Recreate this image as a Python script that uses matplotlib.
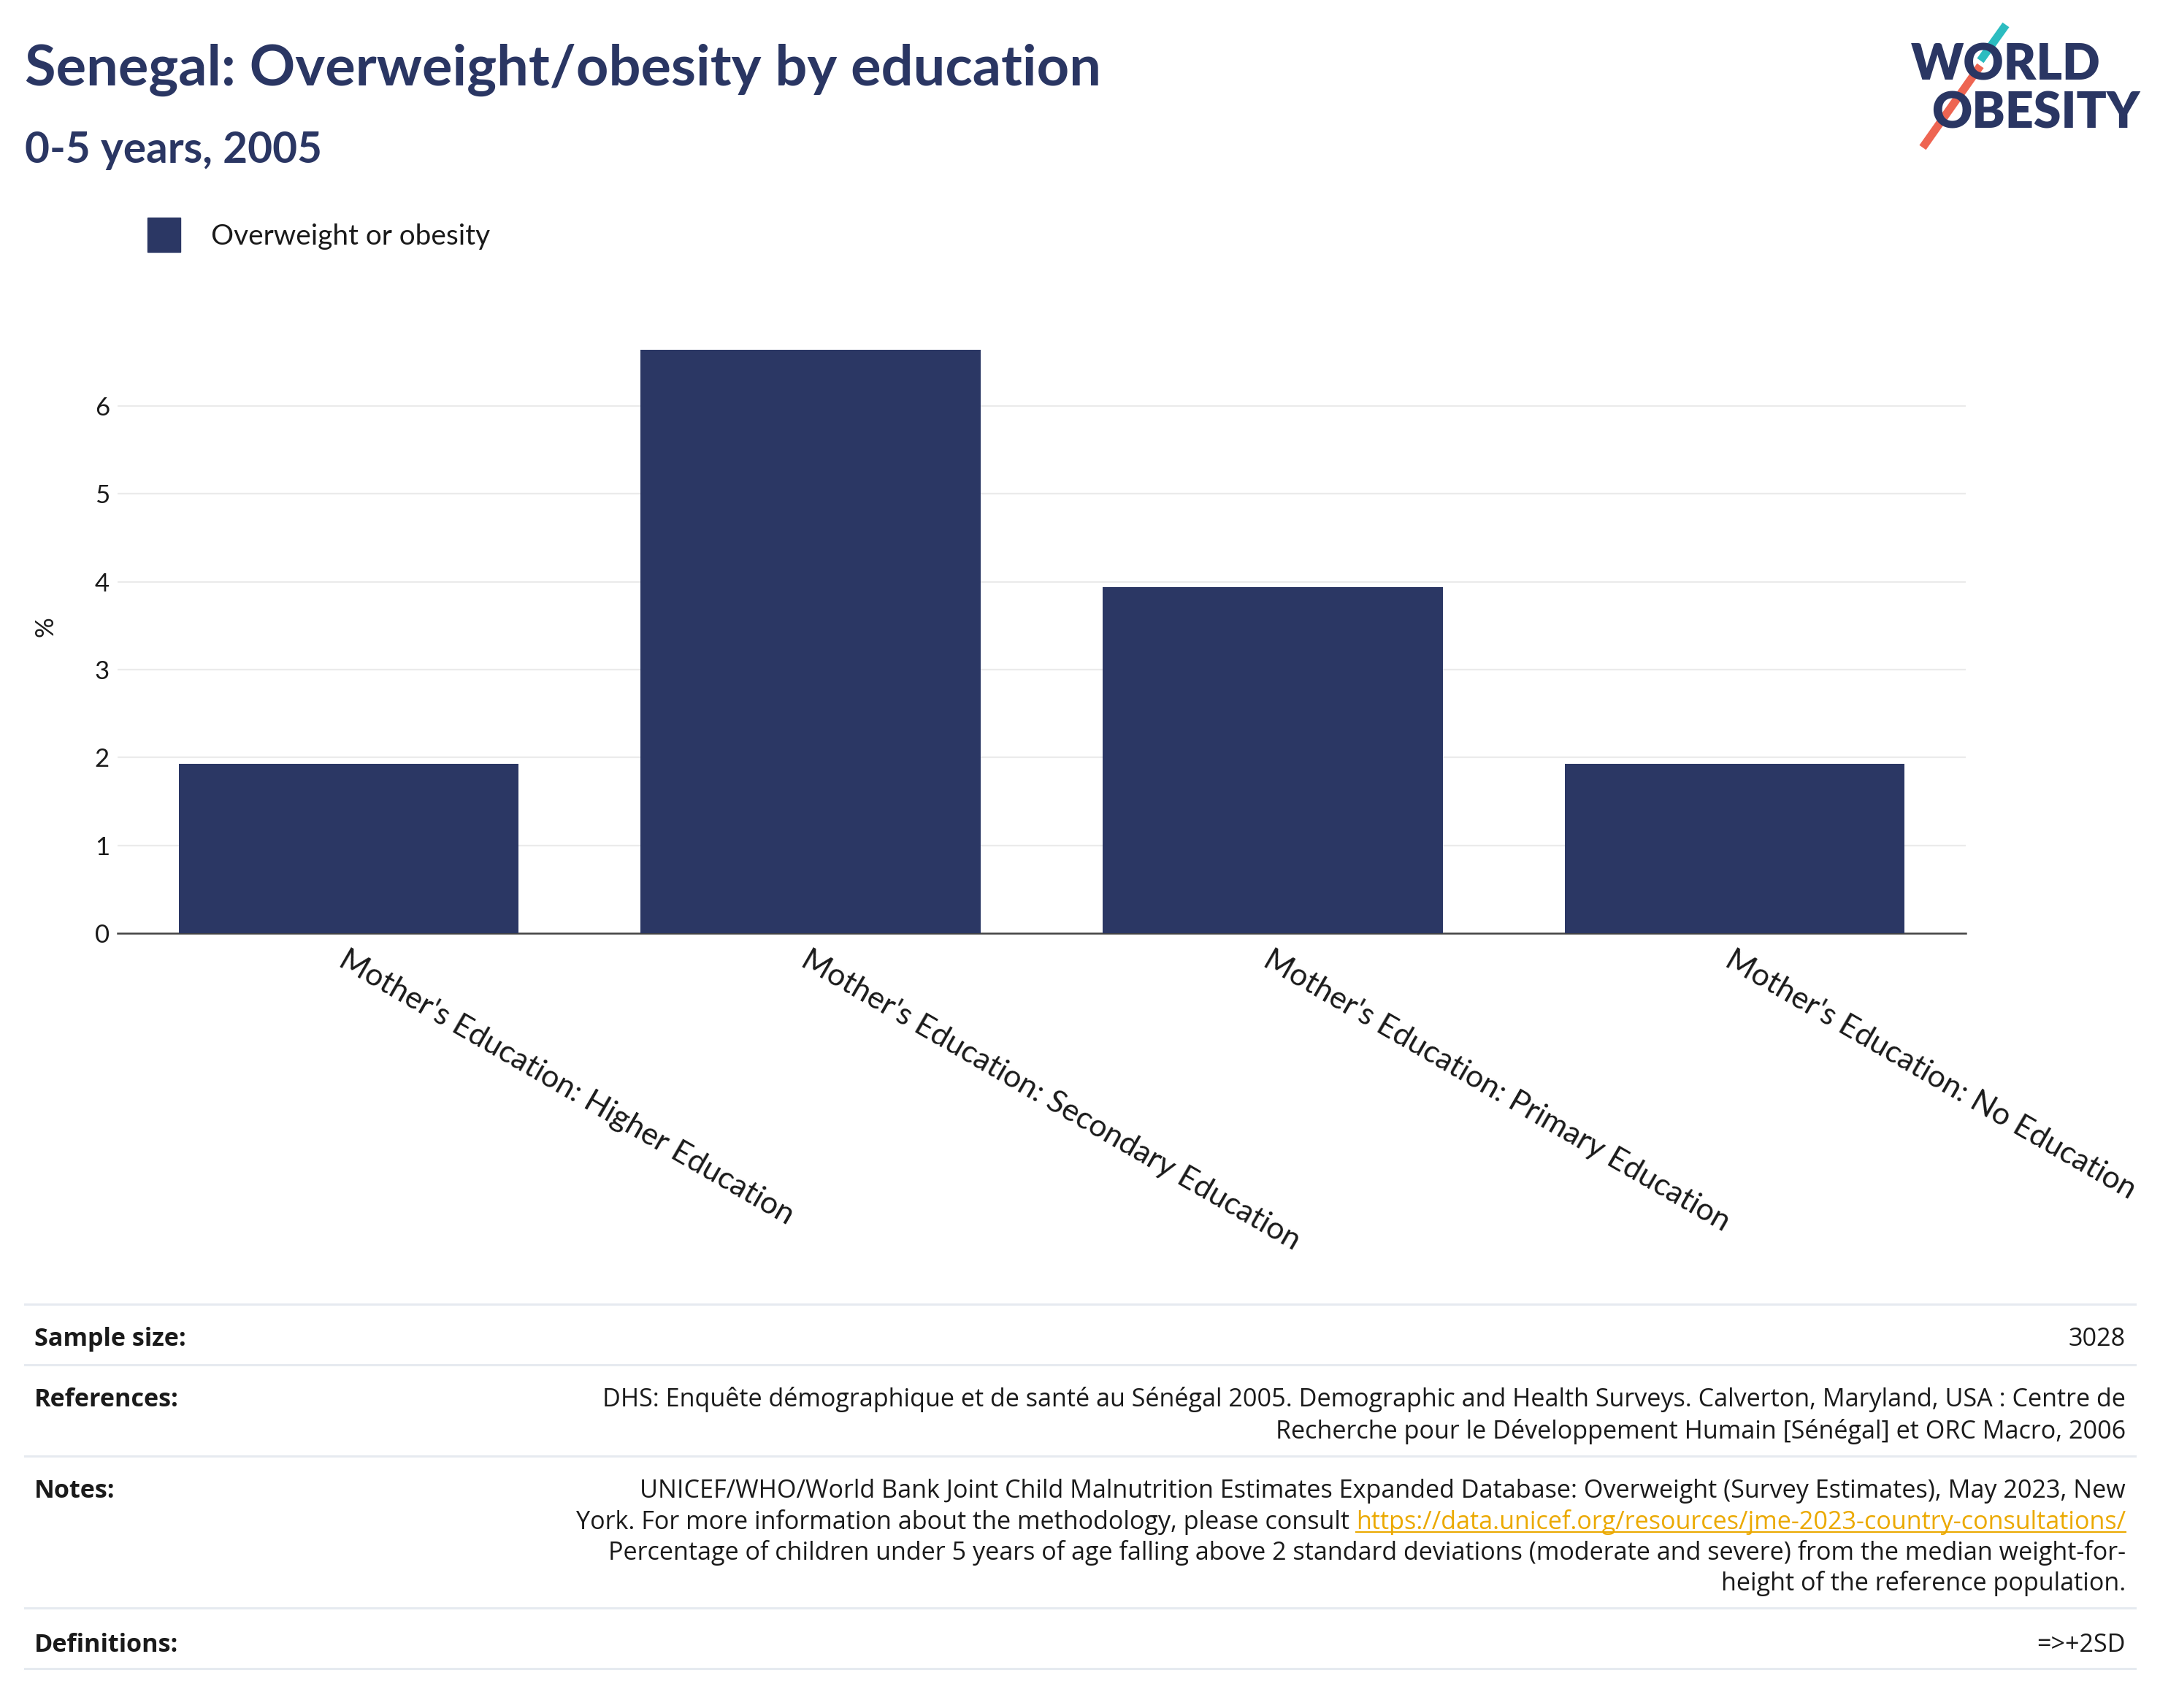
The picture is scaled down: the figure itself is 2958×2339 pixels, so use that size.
import matplotlib
matplotlib.use('Agg')
import matplotlib.pyplot as plt
from matplotlib.patches import Rectangle
from matplotlib.lines import Line2D
from matplotlib import patheffects as pe

# ---------------- data ----------------
categories = ["Mother's Education: Higher Education",
              "Mother's Education: Secondary Education",
              "Mother's Education: Primary Education",
              "Mother's Education: No Education"]
values = [1.93, 6.64, 3.94, 1.93]
series_name = "Overweight or obesity"
y_ticks = [0, 1, 2, 3, 4, 5, 6]
y_label = "%"

title = "Senegal: Overweight/obesity by education"
subtitle = "0-5 years, 2005"

sample_size = "3028"
references_lines = [
    "DHS: Enquête démographique et de santé au Sénégal 2005. Demographic and Health Surveys. Calverton, Maryland, USA : Centre de",
    "Recherche pour le Développement Humain [Sénégal] et ORC Macro, 2006",
]
notes_line1 = "UNICEF/WHO/World Bank Joint Child Malnutrition Estimates Expanded Database: Overweight (Survey Estimates), May 2023, New"
notes_line2_prefix = "York. For more information about the methodology, please consult"
notes_link = "https://data.unicef.org/resources/jme-2023-country-consultations/"
notes_line3 = "Percentage of children under 5 years of age falling above 2 standard deviations (moderate and severe) from the median weight-for-"
notes_line4 = "height of the reference population."
definitions = "=>+2SD"

# ---------------- style ----------------
W, H = 2958, 2339
DPI = 100
NAVY = '#2B3764'
TITLE_C = '#2A3663'
FONT = ['Lato', 'DejaVu Sans']
TFONT = ['Open Sans', 'DejaVu Sans']
plt.rcParams['font.family'] = FONT

fig = plt.figure(figsize=(W / DPI, H / DPI), dpi=DPI)
fig.patch.set_facecolor('white')
renderer = fig.canvas.get_renderer()


def fx(px):
    return px / W


def fy(py):
    return 1 - py / H


def fit(text_artist, target_px):
    """Scale font size so that the rendered width matches target_px."""
    w = text_artist.get_window_extent(renderer=renderer).width
    text_artist.set_fontsize(text_artist.get_fontsize() * target_px / w)
    return text_artist.get_fontsize()


# ---------------- axes ----------------
ax = fig.add_axes([fx(161), fy(1278), (2692 - 161) / W, (1278 - 437) / H])
ax.set_axisbelow(True)
xpos = list(range(len(categories)))
ax.bar(xpos, values, width=0.736, color=NAVY, zorder=3)
ax.set_xlim(-0.5, len(categories) - 0.5)
ax.set_ylim(0, 6.99)
ax.set_yticks(y_ticks)
ax.set_yticklabels([str(t) for t in y_ticks], fontsize=25, color='#1a1a1a')
ax.tick_params(axis='y', length=0, pad=8)
ax.grid(axis='y', color='#EBEBEB', linewidth=1.6)
ax.axhline(0, color='#444444', lw=1.8, zorder=2.5, clip_on=False)
for s in ax.spines.values():
    s.set_visible(False)
ax.set_xticks(xpos)

# x label size chosen to match the reference label length
probe = fig.text(0, 0, categories[0], fontsize=24)
xfs = fit(probe, 712)
probe.remove()
ax.set_xticklabels(categories, rotation=-30, ha='left', va='top',
                   rotation_mode='anchor', fontsize=xfs, color='#1a1a1a')
ax.tick_params(axis='x', length=0, pad=12)
ax.set_facecolor('white')

fig.text(fx(62), fy(858), y_label, rotation=90, ha='center', va='center',
         fontsize=25, color='#1a1a1a')

# ---------------- titles ----------------
t = fig.text(fx(34), fy(117), title, ha='left', va='baseline', fontsize=55,
             fontweight='bold', color=TITLE_C)
fit(t, 1470)
st = fig.text(fx(34), fy(223), subtitle, ha='left', va='baseline', fontsize=38,
              fontweight='bold', color=TITLE_C)
fit(st, 407)

# ---------------- legend ----------------
fig.add_artist(Rectangle((fx(202), fy(345)), 45 / W, 47 / H,
                         transform=fig.transFigure, color=NAVY))
lg = fig.text(fx(289), fy(324), series_name, ha='left', va='center', fontsize=25,
              color='#1a1a1a')
fit(lg, 383)

# ---------------- logo ----------------
fig.text(fx(2617), fy(110), "WORLD", ha='left', va='baseline', fontsize=49,
         fontweight='heavy', color=TITLE_C)
fig.text(fx(2645), fy(175), "OBESITY", ha='left', va='baseline', fontsize=49,
         fontweight='heavy', color=TITLE_C)
white_edge = [pe.Stroke(linewidth=16, foreground='white'), pe.Normal()]
fig.add_artist(Line2D([fx(2747), fx(2712)], [fy(34), fy(83)],
                      transform=fig.transFigure, color='#2CBCC0', lw=8,
                      solid_capstyle='butt', path_effects=white_edge))
fig.add_artist(Line2D([fx(2712), fx(2633)], [fy(90), fy(202)],
                      transform=fig.transFigure, color='#EE6552', lw=8,
                      solid_capstyle='butt', path_effects=white_edge))

# ---------------- info table ----------------
TC = '#1a1a1a'
for ly in [1786, 1869, 1994, 2202, 2285]:
    fig.add_artist(Line2D([fx(34), fx(2924)], [fy(ly), fy(ly)],
                          transform=fig.transFigure, color='#E6EAF0', lw=2.2))

probe = fig.text(0, 0, references_lines[0], fontsize=22, family=TFONT)
TFS = fit(probe, 2085)
probe.remove()

LX, RX = 47, 2911


def ttext(px, py, s, ha='right', bold=False, color=TC):
    return fig.text(fx(px), fy(py), s, ha=ha, va='center', fontsize=TFS,
                    family=TFONT, fontweight='bold' if bold else 'normal',
                    color=color)


ttext(LX, 1834, "Sample size:", ha='left', bold=True)
ttext(RX, 1834, sample_size)

ttext(LX, 1917, "References:", ha='left', bold=True)
for i, line in enumerate(references_lines):
    ttext(RX, 1917 + 43 * i, line)

ttext(LX, 2042, "Notes:", ha='left', bold=True)
ttext(RX, 2042, notes_line1)
LINK_C = '#EBA900'
link = ttext(RX, 2084, notes_link, color=LINK_C)
bb = link.get_window_extent(renderer=renderer)
space_px = 0.26 * TFS * DPI / 72
fig.text(bb.x0 / W - space_px / W, fy(2084), notes_line2_prefix, ha='right',
         va='center', fontsize=TFS, family=TFONT, color=TC)
uy = bb.y0 + 4
fig.add_artist(Line2D([bb.x0 / W, bb.x1 / W], [uy / H, uy / H],
                      transform=fig.transFigure, color=LINK_C, lw=1.5))
ttext(RX, 2127, notes_line3)
ttext(RX, 2169, notes_line4)

ttext(LX, 2253, "Definitions:", ha='left', bold=True)
ttext(RX, 2253, definitions)

fig.savefig('out.png', dpi=DPI, facecolor='white')
